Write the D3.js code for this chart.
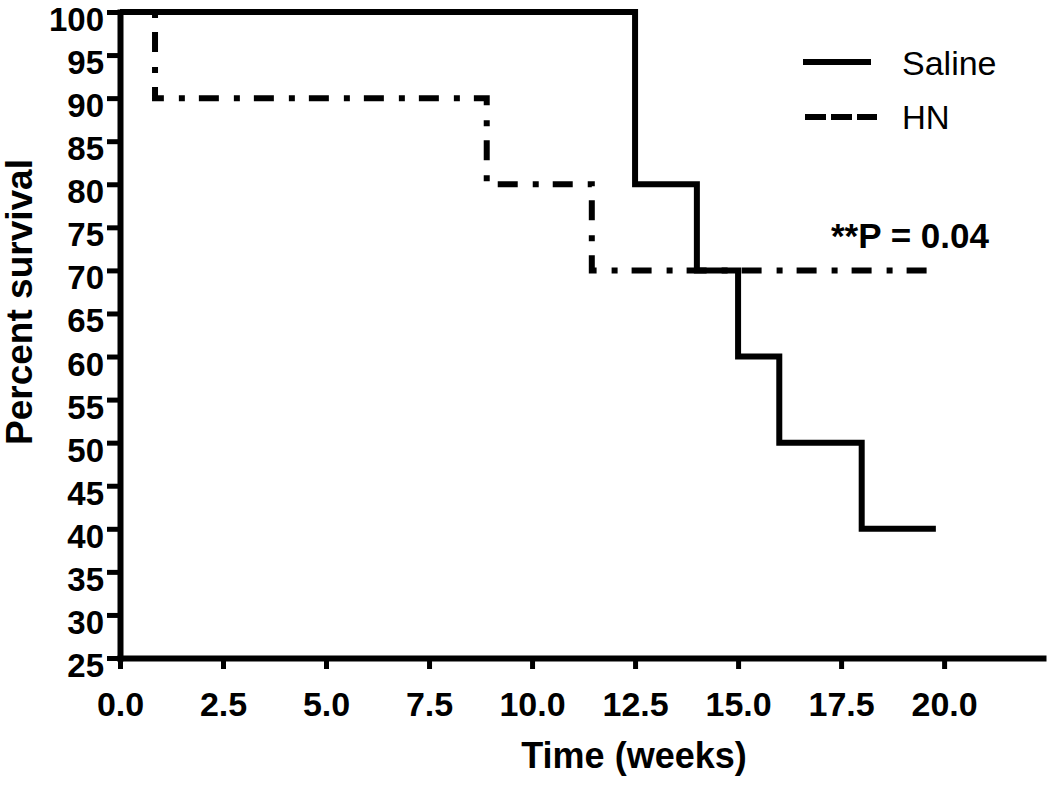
<!DOCTYPE html>
<meta charset="UTF-8">
<html lang="en">
<head><link rel="icon" href="data:,"></head>
<style>
body {
  margin: 0;
  background: #fff;
}
svg text {
  font-family: "Liberation Sans", Arial, sans-serif;
  fill: #000;
}
.tick text {
  font-size: 33px;
  font-weight: bold;
}
.axis .domain {
  stroke: #000;
  stroke-width: 6px;
}
.axis .tick line {
  stroke: #000;
  stroke-width: 5px;
}
</style>
<script src="https://unpkg.com/d3@7.0.1/dist/d3.min.js"></script>
<body>
<svg id="view"></svg>
</body>
<script>
const viewDims = { width: 1050, height: 788 };

// Kaplan-Meier steps
const salineWeeks = [0, 12.5, 14, 15, 16, 18, 19.8];
const salineSurv  = [100, 80, 70, 60, 50, 40, 40];
const hnWeeks = [0, 0.85, 8.9, 11.45, 19.7];
const hnSurv  = [100, 90, 80, 70, 70];

const xTicks = [0, 2.5, 5, 7.5, 10, 12.5, 15, 17.5, 20];
const yTicks = [25, 30, 35, 40, 45, 50, 55, 60, 65, 70, 75, 80, 85, 90, 95, 100];

const svg = d3.select("svg#view")
    .attr("width", viewDims.width)
    .attr("height", viewDims.height);

const x = d3.scaleLinear().domain([0, 22.4]).range([120, 1043]);
const y = d3.scaleLinear().domain([25, 100]).range([658, 12]);

// x axis
svg.append("g")
    .attr("class", "axis")
    .attr("transform", `translate(0,${y(25)})`)
    .call(d3.axisBottom(x)
        .tickValues(xTicks)
        .tickFormat(d3.format(".1f"))
        .tickSize(11)
        .tickSizeOuter(0)
        .tickPadding(23))
    .selectAll(".tick text")
    .style("font-size", "34px");

// y axis
const yAx = svg.append("g")
    .attr("class", "axis")
    .attr("transform", `translate(${x(0)},0)`)
    .call(d3.axisLeft(y)
        .tickValues(yTicks)
        .tickSize(13)
        .tickSizeOuter(0)
        .tickPadding(3));
// labels sit a little below their ticks in the original
yAx.selectAll(".tick text").attr("dy", "0.56em");

svg.selectAll(".axis .domain").attr("stroke-linecap", "square");

const line = d3.line()
    .x(d => x(d[0]))
    .y(d => y(d[1]))
    .curve(d3.curveStepAfter);

svg.append("path")
    .datum(hnWeeks.map((w, i) => [w, hnSurv[i]]))
    .attr("d", line)
    .attr("fill", "none")
    .attr("stroke", "#000")
    .attr("stroke-width", 6)
    .attr("stroke-dasharray", "20,15,6,14");

svg.append("path")
    .datum(salineWeeks.map((w, i) => [w, salineSurv[i]]))
    .attr("d", line)
    .attr("fill", "none")
    .attr("stroke", "#000")
    .attr("stroke-width", 6);

// axis titles
svg.append("text")
    .attr("x", 634)
    .attr("y", 768)
    .attr("text-anchor", "middle")
    .style("font-size", "36px")
    .style("font-weight", "bold")
    .text("Time (weeks)");

svg.append("text")
    .attr("transform", "translate(32,302) rotate(-90)")
    .attr("text-anchor", "middle")
    .style("font-size", "37px")
    .style("font-weight", "bold")
    .text("Percent survival");

// legend
const legend = svg.append("g");
legend.append("line")
    .attr("x1", 803).attr("x2", 871)
    .attr("y1", 62).attr("y2", 62)
    .attr("stroke", "#000").attr("stroke-width", 6);
legend.append("line")
    .attr("x1", 805).attr("x2", 877)
    .attr("y1", 117).attr("y2", 117)
    .attr("stroke", "#000").attr("stroke-width", 6)
    .attr("stroke-dasharray", "21,5");
legend.append("text")
    .attr("x", 902).attr("y", 75)
    .style("font-size", "34px")
    .text("Saline");
legend.append("text")
    .attr("x", 902).attr("y", 129)
    .style("font-size", "33px")
    .text("HN");

svg.append("text")
    .attr("x", 831)
    .attr("y", 248)
    .style("font-size", "35px")
    .style("font-weight", "bold")
    .text("**P = 0.04");
</script>
</html>
